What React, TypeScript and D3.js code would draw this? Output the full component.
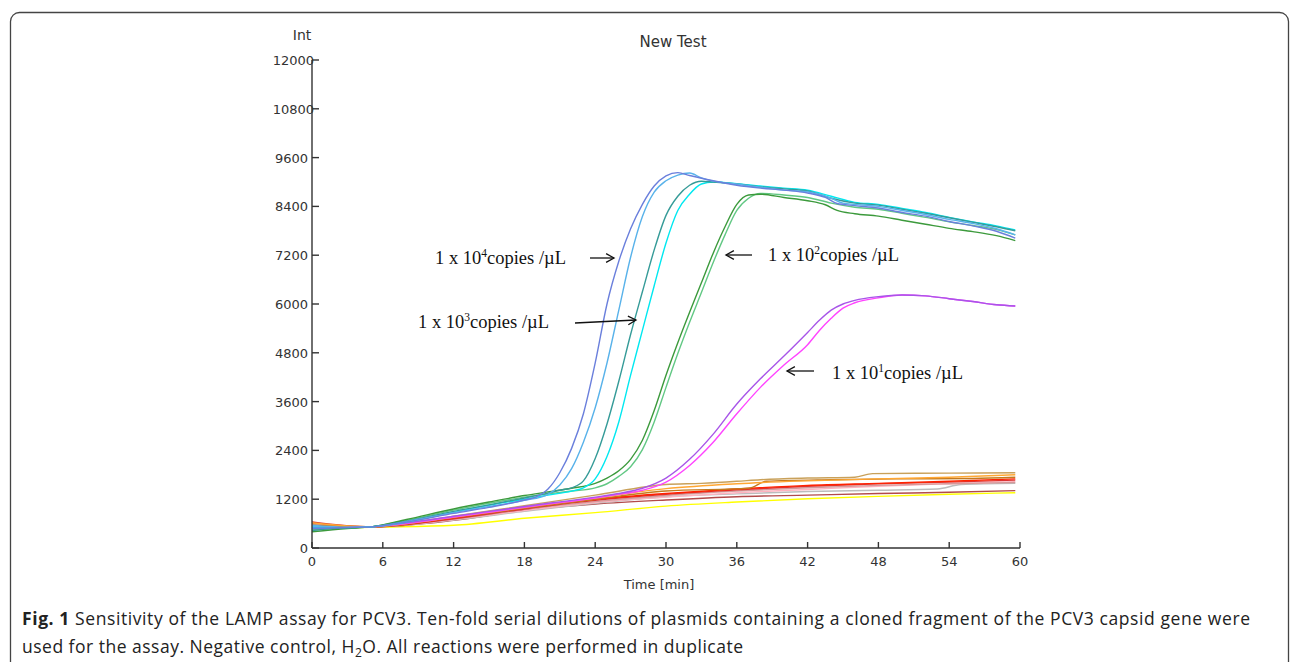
import React from "react";
import * as d3 from "d3";

type Pt = [number, number];

const yTicks = [0, 1200, 2400, 3600, 4800, 6000, 7200, 8400, 9600, 10800, 12000];
const xTicks = [0, 6, 12, 18, 24, 30, 36, 42, 48, 54, 60];

// positive reactions
const blue1e4: Pt[] = [[0,480],[3,505],[5,520],[8,640],[12,850],[15,1000],[18,1180],[19,1260],[20,1450],[21,1850],[22,2450],[23,3300],[24,4550],[25,6000],[26,7050],[27,7850],[28,8450],[29,8900],[30,9150],[31,9230],[32,9160],[34,9030],[36,8920],[38,8850],[40,8800],[42,8730],[43.5,8620],[44.5,8470],[46,8420],[48,8360],[50,8250],[52,8160],[54,8030],[56,7920],[58,7790],[59.6,7620]];
const lightBlue1e4: Pt[] = [[0,560],[3,510],[5,520],[8,650],[12,870],[15,1020],[18,1170],[20,1320],[21,1550],[22,1950],[23,2600],[24,3450],[25,4550],[26,5850],[27,7150],[28,8150],[29,8750],[30,9030],[31,9170],[32,9220],[33,9100],[34,9020],[36,8950],[38,8870],[40,8800],[42,8760],[44,8600],[45,8480],[48,8400],[50,8300],[52,8200],[54,8080],[56,7980],[58,7850],[59.6,7700]];
const teal1e3: Pt[] = [[0,430],[3,500],[5,520],[8,660],[12,900],[15,1060],[18,1230],[20,1350],[21,1420],[22,1480],[23,1650],[24,2200],[25,3050],[26,4100],[27,5250],[28,6300],[29,7330],[30,8180],[31,8650],[32,8920],[33,9020],[34,9000],[36,8950],[38,8880],[40,8830],[42,8780],[44,8600],[46,8480],[48,8430],[50,8330],[52,8230],[54,8120],[56,8010],[58,7900],[59.6,7800]];
const cyan1e3: Pt[] = [[0,520],[3,500],[5,520],[8,640],[12,880],[15,1050],[18,1200],[20,1300],[22,1400],[23,1480],[24,1700],[25,2250],[26,3100],[27,4250],[28,5350],[29,6450],[30,7500],[31,8300],[32,8700],[33,8950],[34,9000],[36,8960],[38,8900],[40,8850],[42,8800],[44,8650],[46,8500],[48,8450],[50,8350],[52,8250],[54,8130],[56,8020],[58,7920],[59.6,7820]];
const green1e2: Pt[] = [[0,400],[3,480],[5,520],[8,700],[12,960],[15,1130],[18,1290],[20,1380],[22,1470],[24,1590],[25,1720],[26,1900],[27,2180],[28,2650],[29,3380],[30,4250],[31,5050],[32,5800],[33,6520],[34,7250],[35,7900],[36,8450],[37,8680],[38,8700],[40,8620],[42,8540],[43.5,8440],[44.5,8300],[46,8220],[48,8160],[50,8060],[52,7960],[54,7860],[56,7780],[58,7680],[59.6,7560]];
const lightGreen1e2: Pt[] = [[0,450],[3,490],[5,520],[8,680],[12,930],[15,1100],[18,1250],[20,1330],[22,1400],[24,1480],[25,1580],[26,1760],[27,2000],[28,2420],[29,3100],[30,3950],[31,4780],[32,5550],[33,6280],[34,7020],[35,7700],[36,8300],[37,8600],[38,8720],[40,8680],[42,8620],[44,8480],[46,8380],[48,8330],[50,8230],[52,8130],[54,8020],[56,7930],[58,7830],[59.6,7700]];
const purple1e1: Pt[] = [[0,500],[3,500],[5,520],[8,620],[12,780],[15,900],[18,1020],[20,1100],[22,1170],[24,1250],[26,1340],[28,1470],[30,1720],[32,2180],[34,2800],[36,3540],[38,4160],[40,4720],[42,5300],[43,5600],[44,5850],[45,6000],[46,6090],[48,6180],[50,6220],[52,6200],[54,6130],[56,6060],[58,5980],[59.6,5950]];
const magenta1e1: Pt[] = [[0,520],[3,500],[5,520],[8,600],[12,760],[15,880],[18,1000],[20,1080],[22,1150],[24,1230],[26,1320],[28,1420],[30,1620],[32,2030],[34,2600],[36,3300],[38,3950],[40,4500],[42,5000],[43,5350],[44,5650],[45,5900],[46,6030],[48,6150],[50,6220],[52,6200],[54,6130],[56,6060],[58,5980],[59.6,5950]];

// negative reactions
const tanNeg: Pt[] = [[0,470],[3,500],[5,520],[8,620],[12,780],[18,1040],[24,1300],[30,1560],[33,1590],[36,1640],[38,1680],[42,1720],[46,1740],[47.5,1830],[54,1840],[59.6,1850]];
const orangeNeg: Pt[] = [[0,620],[3,540],[5,520],[8,600],[12,760],[18,1000],[24,1230],[30,1460],[36,1580],[42,1650],[48,1700],[54,1740],[59.6,1800]];
const darkOrangeNeg: Pt[] = [[0,560],[5,520],[12,750],[18,980],[24,1200],[30,1400],[37,1470],[38.5,1640],[44,1680],[50,1700],[56,1710],[59.6,1740]];
const redNeg: Pt[] = [[0,500],[5,520],[12,740],[18,1000],[24,1200],[30,1340],[36,1450],[42,1540],[48,1590],[54,1640],[59.6,1700]];
const crimsonNeg: Pt[] = [[0,640],[5,520],[12,720],[18,960],[24,1170],[30,1320],[36,1430],[42,1520],[48,1580],[54,1620],[59.6,1670]];
const pinkNeg: Pt[] = [[0,540],[5,520],[12,700],[18,920],[24,1120],[30,1250],[36,1360],[42,1440],[48,1520],[54,1580],[59.6,1630]];
const grayNeg: Pt[] = [[0,520],[5,520],[12,690],[18,900],[24,1100],[30,1260],[36,1330],[42,1390],[48,1420],[53,1450],[55,1560],[59.6,1590]];
const brownNeg: Pt[] = [[0,600],[5,520],[12,680],[18,930],[24,1080],[30,1180],[36,1260],[42,1300],[48,1340],[54,1370],[59.6,1410]];
const yellowNeg: Pt[] = [[0,470],[5,510],[12,560],[18,730],[24,870],[30,1030],[36,1130],[42,1210],[48,1270],[54,1320],[59.6,1360]];
const rosyNeg: Pt[] = [[0,580],[5,520],[12,710],[18,950],[24,1140],[30,1290],[36,1400],[42,1480],[48,1540],[54,1580],[59.6,1610]];

const series: { data: Pt[]; color: string }[] = [
  { data: yellowNeg, color: "#ffff00" },
  { data: brownNeg, color: "#b24a4a" },
  { data: grayNeg, color: "#bcbcbc" },
  { data: pinkNeg, color: "#ffb3c0" },
  { data: rosyNeg, color: "#d49a9a" },
  { data: crimsonNeg, color: "#dd3333" },
  { data: redNeg, color: "#ff2200" },
  { data: darkOrangeNeg, color: "#c47a1e" },
  { data: orangeNeg, color: "#ffa733" },
  { data: tanNeg, color: "#c9a15a" },
  { data: magenta1e1, color: "#ff44ff" },
  { data: purple1e1, color: "#a855e8" },
  { data: lightGreen1e2, color: "#62c884" },
  { data: green1e2, color: "#3c9a3c" },
  { data: cyan1e3, color: "#00e8f0" },
  { data: teal1e3, color: "#359b98" },
  { data: lightBlue1e4, color: "#58b2ea" },
  { data: blue1e4, color: "#6a7fdc" },
];

const annotations = [
  { exp: "4", x: 435, y: 264, arrow: [590, 258, 614, 258] },
  { exp: "3", x: 418, y: 328, arrow: [575, 323, 636, 320] },
  { exp: "2", x: 768, y: 261, arrow: [752, 255, 726, 255] },
  { exp: "1", x: 832, y: 379, arrow: [814, 371, 787, 371] },
];

const x = d3.scaleLinear().domain([0, 60]).range([312, 1020]);
const y = d3.scaleLinear().domain([0, 12000]).range([548, 60]);
const line = d3.line<Pt>().x((d) => x(d[0])).y((d) => y(d[1])).curve(d3.curveMonotoneX);

function Arrow({ a }: { a: number[] }) {
  const [x1, y1, x2, y2] = a;
  const ang = Math.atan2(y2 - y1, x2 - x1);
  const L = 9;
  const s = 0.5;
  const p1 = [x2 - L * Math.cos(ang - s), y2 - L * Math.sin(ang - s)];
  const p2 = [x2 - L * Math.cos(ang + s), y2 - L * Math.sin(ang + s)];
  return (
    <g stroke="#111" strokeWidth={1.3} fill="none">
      <line x1={x1} y1={y1} x2={x2} y2={y2} />
      <path d={`M${p1[0]},${p1[1]}L${x2},${y2}L${p2[0]},${p2[1]}`} />
    </g>
  );
}

export default function App() {
  const axisFont = "'DejaVu Sans', Verdana, sans-serif";
  return (
    <svg
      width={1290}
      height={662}
      style={{ position: "absolute", left: 0, top: 0, display: "block", background: "#fff" }}
    >
      <rect x={10.5} y={12.5} width={1278} height={720} rx={9} fill="#fff" stroke="#444" strokeWidth={1.3} />
      <text x={673} y={47} textAnchor="middle" fontFamily={axisFont} fontSize={15} fill="#333">New Test</text>
      <text x={302} y={40} textAnchor="middle" fontFamily={axisFont} fontSize={14} fill="#333">Int</text>
      <g>
        {series.map((s, i) => (
          <path key={i} d={line(s.data) || ""} fill="none" stroke={s.color} strokeWidth={1.4} />
        ))}
      </g>
      <g stroke="#333" strokeWidth={1.4}>
        <line x1={x(0)} y1={y(12000)} x2={x(0)} y2={y(0)} />
        <line x1={x(0)} y1={y(0)} x2={x(60)} y2={y(0)} />
        {yTicks.map((t) => (
          <line key={"yt" + t} x1={x(0)} x2={x(0) + 7} y1={y(t)} y2={y(t)} />
        ))}
        {xTicks.map((t) => (
          <line key={"xt" + t} x1={x(t)} x2={x(t)} y1={y(0)} y2={y(0) - 6} />
        ))}
      </g>
      <g fontFamily={axisFont} fontSize={13} fill="#333">
        {yTicks.map((t) => (
          <text key={"yl" + t} x={t >= 10000 ? 314 : 308} y={y(t) + 5} textAnchor="end">{t}</text>
        ))}
        {xTicks.map((t) => (
          <text key={"xl" + t} x={x(t)} y={y(0) + 18} textAnchor="middle">{t}</text>
        ))}
        <text x={659} y={589} textAnchor="middle">Time [min]</text>
      </g>
      <g fontFamily="'Liberation Serif', 'Times New Roman', serif" fontSize={18.5} fill="#111">
        {annotations.map((a, i) => (
          <g key={i}>
            <text x={a.x} y={a.y}>
              1 x 10<tspan dy={-7} fontSize={11.5}>{a.exp}</tspan>
              <tspan dy={7}>copies /µL</tspan>
            </text>
            <Arrow a={a.arrow} />
          </g>
        ))}
      </g>
      <g fontFamily="'Open Sans', 'Noto Sans', sans-serif" fontSize={17.5} fill="#222">
        <text x={22} y={625} textLength={1228} lengthAdjust="spacing">
          <tspan fontWeight="bold">Fig. 1</tspan> Sensitivity of the LAMP assay for PCV3. Ten-fold serial dilutions of plasmids containing a cloned fragment of the PCV3 capsid gene were
        </text>
        <text x={22} y={653} textLength={721} lengthAdjust="spacing">
          used for the assay. Negative control, H<tspan dy={4} fontSize={12}>2</tspan><tspan dy={-4}>O. All reactions were performed in duplicate</tspan>
        </text>
      </g>
    </svg>
  );
}
